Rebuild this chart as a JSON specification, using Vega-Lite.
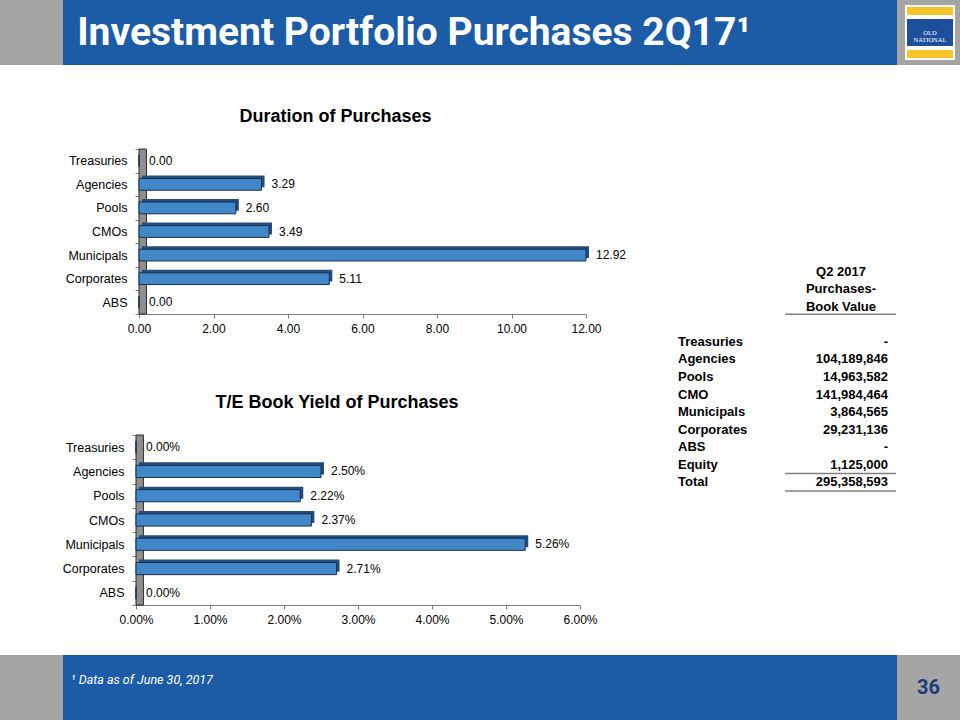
{
  "$schema": "https://vega.github.io/schema/vega-lite/v6.json",
  "background": "#ffffff",
  "padding": 0,
  "spacing": 0,
  "config": {
    "view": {"stroke": null},
    "concat": {"spacing": 0},
    "axis": {"labelFont": "Liberation Sans", "labelColor": "#000000", "domainColor": "#7f7f7f", "tickColor": "#7f7f7f", "tickSize": 4, "grid": false, "labelFlush": false},
    "axisX": {"labelFontSize": 12, "labelPadding": 5},
    "axisY": {"labelFontSize": 12.5, "labelPadding": 8, "tickBand": "extent", "domainColor": "#404040"}
  },
  "datasets": {
    "duration": [
      {"category": "Treasuries", "value": 0.0},
      {"category": "Agencies", "value": 3.29},
      {"category": "Pools", "value": 2.60},
      {"category": "CMOs", "value": 3.49},
      {"category": "Municipals", "value": 12.92},
      {"category": "Corporates", "value": 5.11},
      {"category": "ABS", "value": 0.0}
    ],
    "yield": [
      {"category": "Treasuries", "value": 0.0},
      {"category": "Agencies", "value": 0.025},
      {"category": "Pools", "value": 0.0222},
      {"category": "CMOs", "value": 0.0237},
      {"category": "Municipals", "value": 0.0526},
      {"category": "Corporates", "value": 0.0271},
      {"category": "ABS", "value": 0.0}
    ],
    "table": [
      {"item": "Treasuries", "value": "-"},
      {"item": "Agencies", "value": "104,189,846"},
      {"item": "Pools", "value": "14,963,582"},
      {"item": "CMO", "value": "141,984,464"},
      {"item": "Municipals", "value": "3,864,565"},
      {"item": "Corporates", "value": "29,231,136"},
      {"item": "ABS", "value": "-"},
      {"item": "Equity", "value": "1,125,000"},
      {"item": "Total", "value": "295,358,593"}
    ],
    "tableHeader": [
      {"item": "Q2 2017"},
      {"item": "Purchases-"},
      {"item": "Book Value"}
    ]
  },
  "vconcat": [
    {
      "spacing": 0,
      "hconcat": [
        {"width": 63, "height": 65, "view": {"fill": "#a5a5a5", "stroke": null}, "data": {"values": []}, "mark": "rect"},
        {"width": 702, "height": 65, "view": {"fill": "#1c5ba5", "stroke": null},
         "data": {"values": [{"t": "Investment Portfolio Purchases 2Q17¹"}]},
         "mark": {"type": "text", "font": "Roboto", "fontWeight": "bold", "fontSize": 39, "color": "#ffffff", "align": "center", "baseline": "middle"},
         "encoding": {"text": {"field": "t", "type": "nominal"}}},
        {"width": 132, "height": 65, "view": {"fill": "#1c5ba5", "stroke": null}, "data": {"values": []}, "mark": "rect"},
        {
          "spacing": 0,
          "vconcat": [
            {"width": 63, "height": 5, "view": {"fill": "#a5a5a5", "stroke": null}, "data": {"values": []}, "mark": "rect"},
            {
              "spacing": 0,
              "hconcat": [
                {"width": 8, "height": 55, "view": {"fill": "#a5a5a5", "stroke": null}, "data": {"values": []}, "mark": "rect"},
                {"width": 2, "height": 55, "view": {"fill": "#ffffff", "stroke": null}, "data": {"values": []}, "mark": "rect"},
                {
                  "spacing": 0,
                  "vconcat": [
                    {"width": 46, "height": 2, "view": {"fill": "#ffffff", "stroke": null}, "data": {"values": []}, "mark": "rect"},
                    {"width": 46, "height": 8, "view": {"fill": "#f7c42a", "stroke": null}, "data": {"values": []}, "mark": "rect"},
                    {"width": 46, "height": 4, "view": {"fill": "#ffffff", "stroke": null}, "data": {"values": []}, "mark": "rect"},
                    {"width": 46, "height": 27, "view": {"fill": "#1d4f9c", "stroke": null},
                     "data": {"values": [{"t": "OLD\nNATIONAL"}]},
                     "mark": {"type": "text", "font": "Liberation Serif", "fontSize": 6.5, "lineHeight": 7, "lineBreak": "\n", "color": "#ffffff", "align": "center", "baseline": "middle"},
                     "encoding": {"text": {"field": "t", "type": "nominal"}}},
                    {"width": 46, "height": 4, "view": {"fill": "#ffffff", "stroke": null}, "data": {"values": []}, "mark": "rect"},
                    {"width": 46, "height": 8, "view": {"fill": "#f7c42a", "stroke": null}, "data": {"values": []}, "mark": "rect"},
                    {"width": 46, "height": 2, "view": {"fill": "#ffffff", "stroke": null}, "data": {"values": []}, "mark": "rect"}
                  ]
                },
                {"width": 2, "height": 55, "view": {"fill": "#ffffff", "stroke": null}, "data": {"values": []}, "mark": "rect"},
                {"width": 5, "height": 55, "view": {"fill": "#a5a5a5", "stroke": null}, "data": {"values": []}, "mark": "rect"}
              ]
            },
            {"width": 63, "height": 5, "view": {"fill": "#a5a5a5", "stroke": null}, "data": {"values": []}, "mark": "rect"}
          ]
        }
      ]
    },
    {
      "spacing": 0,
      "hconcat": [
        {
          "spacing": 0,
          "vconcat": [
            {"width": 660, "height": 42, "data": {"values": []}, "mark": "rect"},
            {
              "spacing": 0,
              "hconcat": [
                {"width": 65, "height": 165, "data": {"values": []}, "mark": "rect"},
                {
                  "width": 447, "height": 165,
                  "title": {"text": "Duration of Purchases", "frame": "group", "anchor": "middle", "dx": -27, "offset": 3.5, "baseline": "alphabetic", "fontSize": 18, "font": "Liberation Sans", "fontWeight": "bold", "color": "#000000"},
                  "layer": [
                    {
                      "data": {"values": [{}]},
                      "mark": {"type": "rect", "fill": "#8f8f8f", "stroke": "#2b2b2b", "strokeWidth": 1},
                      "encoding": {"x": {"datum": 0, "type": "quantitative"}, "x2": {"datum": 0.2}}
                    },
                    {
                      "data": {"name": "duration"},
                      "encoding": {
                        "y": {"field": "category", "type": "nominal", "sort": null, "title": null, "scale": {"paddingInner": 0, "paddingOuter": 0}},
                        "x": {"field": "value", "type": "quantitative", "title": null, "scale": {"domain": [0, 12], "nice": false, "clamp": true}, "axis": {"values": [0, 2, 4, 6, 8, 10, 12], "format": ".2f"}}
                      },
                      "layer": [
                        {"mark": {"type": "bar", "color": "#244d7d", "xOffset": 3, "yOffset": -3, "height": {"band": 0.5}}},
                        {"mark": {"type": "bar", "fill": "#4287c8", "stroke": "#17304f", "strokeWidth": 1, "height": {"band": 0.5}}},
                        {"mark": {"type": "text", "align": "left", "dx": 10, "fontSize": 12, "font": "Liberation Sans", "color": "#000000"},
                         "encoding": {"text": {"field": "value", "type": "quantitative", "format": ".2f"}}}
                      ]
                    }
                  ]
                },
                {"width": 20, "height": 165, "data": {"values": []}, "mark": "rect"}
              ]
            },
            {"width": 660, "height": 59.5, "data": {"values": []}, "mark": "rect"},
            {
              "spacing": 0,
              "hconcat": [
                {"width": 62, "height": 170, "data": {"values": []}, "mark": "rect"},
                {
                  "width": 444, "height": 170,
                  "title": {"text": "T/E Book Yield of Purchases", "frame": "group", "anchor": "middle", "dx": -21, "offset": 3, "baseline": "alphabetic", "fontSize": 18, "font": "Liberation Sans", "fontWeight": "bold", "color": "#000000"},
                  "layer": [
                    {
                      "data": {"values": [{}]},
                      "mark": {"type": "rect", "fill": "#8f8f8f", "stroke": "#2b2b2b", "strokeWidth": 1},
                      "encoding": {"x": {"datum": 0, "type": "quantitative"}, "x2": {"datum": 0.001}}
                    },
                    {
                      "data": {"name": "yield"},
                      "encoding": {
                        "y": {"field": "category", "type": "nominal", "sort": null, "title": null, "scale": {"paddingInner": 0, "paddingOuter": 0}},
                        "x": {"field": "value", "type": "quantitative", "title": null, "scale": {"domain": [0, 0.06], "nice": false, "clamp": true}, "axis": {"values": [0, 0.01, 0.02, 0.03, 0.04, 0.05, 0.06], "format": ".2%"}}
                      },
                      "layer": [
                        {"mark": {"type": "bar", "color": "#244d7d", "xOffset": 3, "yOffset": -3, "height": {"band": 0.5}}},
                        {"mark": {"type": "bar", "fill": "#4287c8", "stroke": "#17304f", "strokeWidth": 1, "height": {"band": 0.5}}},
                        {"mark": {"type": "text", "align": "left", "dx": 10, "fontSize": 12, "font": "Liberation Sans", "color": "#000000"},
                         "encoding": {"text": {"field": "value", "type": "quantitative", "format": ".2%"}}}
                      ]
                    }
                  ]
                },
                {"width": 60, "height": 170, "data": {"values": []}, "mark": "rect"}
              ]
            },
            {"width": 660, "height": 29.5, "data": {"values": []}, "mark": "rect"}
          ]
        },
        {
          "spacing": 0,
          "vconcat": [
            {"width": 300, "height": 198, "data": {"values": []}, "mark": "rect"},
            {
              "spacing": 0,
              "hconcat": [
                {"width": 18, "height": 228, "data": {"values": []}, "mark": "rect"},
                {
                  "width": 210, "height": 228,
                  "encoding": {
                    "y": {"field": "item", "type": "nominal", "axis": null, "scale": {"domain": ["Q2 2017", "Purchases-", "Book Value", "gap", "Treasuries", "Agencies", "Pools", "CMO", "Municipals", "Corporates", "ABS", "Equity", "Total"], "paddingInner": 0, "paddingOuter": 0}}
                  },
                  "layer": [
                    {"data": {"name": "table"},
                     "mark": {"type": "text", "align": "left", "baseline": "middle", "font": "Liberation Sans", "fontWeight": "bold", "fontSize": 13, "color": "#000000"},
                     "encoding": {"x": {"datum": 0, "type": "quantitative", "axis": null, "scale": {"domain": [0, 1], "nice": false, "zero": false}}, "text": {"field": "item", "type": "nominal"}}},
                    {"data": {"name": "table"},
                     "mark": {"type": "text", "align": "right", "baseline": "middle", "font": "Liberation Sans", "fontWeight": "bold", "fontSize": 13, "color": "#000000"},
                     "encoding": {"x": {"datum": 1, "type": "quantitative", "axis": null}, "text": {"field": "value", "type": "nominal"}}},
                    {"data": {"name": "tableHeader"},
                     "mark": {"type": "text", "align": "center", "baseline": "middle", "font": "Liberation Sans", "fontWeight": "bold", "fontSize": 13, "color": "#000000"},
                     "encoding": {"x": {"datum": 0.776, "type": "quantitative", "axis": null}, "text": {"field": "item", "type": "nominal"}}},
                    {"data": {"values": [{}]},
                     "mark": {"type": "rule", "color": "#808080", "strokeWidth": 1.5},
                     "encoding": {"y": {"datum": "Book Value", "type": "nominal", "bandPosition": 0.92}, "x": {"datum": 0.51, "type": "quantitative", "axis": null}, "x2": {"datum": 1.038}}},
                    {"data": {"values": [{}]},
                     "mark": {"type": "rule", "color": "#808080", "strokeWidth": 1.5},
                     "encoding": {"y": {"datum": "Total", "type": "nominal", "bandPosition": 0}, "x": {"datum": 0.51, "type": "quantitative", "axis": null}, "x2": {"datum": 1.038}}},
                    {"data": {"values": [{}]},
                     "mark": {"type": "rule", "color": "#808080", "strokeWidth": 1.5},
                     "encoding": {"y": {"datum": "Total", "type": "nominal", "bandPosition": 1}, "x": {"datum": 0.51, "type": "quantitative", "axis": null}, "x2": {"datum": 1.038}}}
                  ]
                },
                {"width": 60, "height": 228, "data": {"values": []}, "mark": "rect"}
              ]
            },
            {"width": 300, "height": 160, "data": {"values": []}, "mark": "rect"}
          ]
        }
      ]
    },
    {
      "spacing": 0,
      "hconcat": [
        {"width": 63, "height": 65, "view": {"fill": "#a5a5a5", "stroke": null}, "data": {"values": []}, "mark": "rect"},
        {
          "spacing": 0,
          "vconcat": [
            {"width": 158, "height": 50, "view": {"fill": "#1c5ba5", "stroke": null},
             "data": {"values": [{"t": "¹ Data as of June 30, 2017"}]},
             "mark": {"type": "text", "font": "Roboto", "fontStyle": "italic", "fontSize": 12.5, "color": "#ffffff", "align": "center", "baseline": "middle"},
             "encoding": {"text": {"field": "t", "type": "nominal"}}},
            {"width": 158, "height": 15, "view": {"fill": "#1c5ba5", "stroke": null}, "data": {"values": []}, "mark": "rect"}
          ]
        },
        {"width": 676, "height": 65, "view": {"fill": "#1c5ba5", "stroke": null}, "data": {"values": []}, "mark": "rect"},
        {"width": 63, "height": 65, "view": {"fill": "#a5a5a5", "stroke": null},
         "data": {"values": [{"t": "36"}]},
         "mark": {"type": "text", "font": "Roboto", "fontWeight": "bold", "fontSize": 20, "color": "#1f3a78", "align": "center", "baseline": "middle"},
         "encoding": {"text": {"field": "t", "type": "nominal"}}}
      ]
    }
  ]
}
